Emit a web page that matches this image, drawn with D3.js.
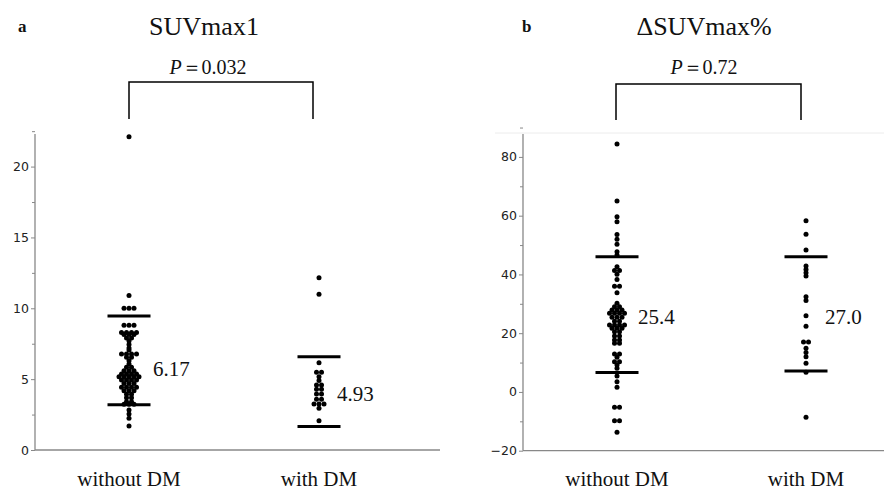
<!DOCTYPE html>
<html lang="en">
<head>
  <meta charset="UTF-8">
  <script src="https://cdn.jsdelivr.net/npm/d3@7"></script>
  <title>SUVmax dot plots</title>
  <style>
    body { margin: 0; background: #fff; }
    .serif { font-family: "Liberation Serif", "Times New Roman", serif; fill: #111; }
    .tick text { font-family: "DejaVu Sans", sans-serif; font-size: 12.5px; fill: #222; }
  </style>
</head>
<body>
<script>
  // group names
  var groups = ["without DM", "with DM"];

  // panel a: SUVmax1 values
  var suvWithout = [22.1, 10.9, 10.0, 10.0, 10.0, 8.8, 8.8, 8.8, 8.3, 8.3, 8.3, 8.3,
    8.15, 8.15, 8.15, 7.9, 7.9, 7.7, 7.45, 7.2, 7.05, 6.77, 6.77, 6.77, 6.77, 6.55, 6.55,
    6.3, 6.07, 5.84, 5.84, 5.6, 5.6, 5.6, 5.36, 5.36, 5.36, 5.36, 5.17, 5.17, 5.17, 5.17, 5.17,
    4.94, 4.94, 4.94, 4.94, 4.7, 4.7, 4.7, 4.42, 4.42, 4.42, 4.42, 4.18, 4.18, 4.18,
    3.93, 3.93, 3.69, 3.69, 3.4, 3.4, 3.22, 3.22, 3.22, 2.82, 2.54, 2.24, 1.7];
  var suvWith = [12.16, 11.0, 6.16, 5.48, 5.48, 5.17, 4.9, 4.59, 4.59, 4.28, 4.28,
    3.95, 3.95, 3.58, 3.58, 3.25, 3.25, 3.25, 2.94, 2.07];
  var suvMeans = [6.17, 4.93];
  var suvUpper = [9.45, 6.58];
  var suvLower = [3.2, 1.65];
  var suvTicks = [0, 5, 10, 15, 20];

  // panel b: delta SUVmax % values
  var dWithout = [84.4, 65.0, 59.6, 57.9, 53.6, 52.0, 50.3, 47.7, 46.6, 42.6, 41.3, 41.3,
    40.1, 38.3, 36.0, 36.0, 33.8, 30.2, 29.0, 29.0, 27.9, 27.9, 27.9, 26.8, 26.8, 26.8, 26.8,
    25.4, 25.4, 25.4, 24.1, 24.1, 22.8, 22.8, 22.8, 22.8, 21.7, 21.7, 21.7, 20.5, 20.5,
    19.0, 19.0, 17.7, 17.7, 16.6, 16.6, 12.9, 12.9, 11.8, 10.3, 10.3, 9.2, 8.1, 5.4, 3.5, 1.6,
    -5.2, -5.2, -9.8, -9.8, -13.7];
  var dWith = [58.3, 53.7, 48.3, 42.9, 41.7, 40.6, 39.5, 32.4, 31.1, 25.9, 22.4, 17.0, 17.0,
    14.9, 13.4, 12.0, 9.8, 6.7, -8.6];
  var dMeans = [25.4, 27.0];
  var dUpper = [46.0, 46.0];
  var dLower = [6.6, 7.1];
  var dTicks = [-20, 0, 20, 40, 60, 80];

  var width = 884, height = 491;
  var svg = d3.select("body").append("svg")
    .attr("width", width).attr("height", height);

  function panel(o) {
    var g = svg.append("g");
    var y = d3.scaleLinear().domain(o.domain).range([o.bottom, 134]);
    var x = d3.scaleOrdinal().domain(groups).range(o.centers);

    // frame lines
    if (o.topLine) {
      g.append("line").attr("x1", o.axisX - 28).attr("x2", o.right)
        .attr("y1", 133).attr("y2", 133)
        .attr("stroke", "#ececec").attr("stroke-width", 1);
    }
    g.append("line").attr("x1", o.axisX).attr("x2", o.right)
      .attr("y1", o.bottom).attr("y2", o.bottom)
      .attr("stroke", "#888").attr("stroke-width", 1.3);

    // y axis with minor ticks
    var minor = [];
    for (var i = 0; i < o.ticks.length - 1; i++) minor.push((o.ticks[i] + o.ticks[i + 1]) / 2);
    minor.push(o.ticks[o.ticks.length - 1] + (o.ticks[1] - o.ticks[0]) / 2);
    g.append("g").attr("transform", "translate(" + o.axisX + ",0)")
      .call(d3.axisLeft(y).tickValues(minor).tickSize(3).tickFormat(""))
      .call(function(s){ s.select(".domain").remove(); s.selectAll("line").attr("stroke", "#888"); });
    var ax = g.append("g").attr("transform", "translate(" + o.axisX + ",0)")
      .call(d3.axisLeft(y).tickValues(o.ticks).tickSize(4).tickPadding(2));
    ax.select(".domain").attr("stroke", "#888").attr("stroke-width", 1.3)
      .attr("d", "M0," + o.bottom + "V134");
    ax.selectAll("line").attr("stroke", "#888");

    // dots, spread sideways when values repeat
    [o.a, o.b].forEach(function(vals, gi) {
      var rows = d3.rollups(vals, function(v){ return v.length; }, function(d){ return d; });
      rows.forEach(function(r) {
        var n = r[1];
        g.selectAll(null).data(d3.range(n)).enter().append("circle")
          .attr("cx", function(k){ return x(groups[gi]) + (k - (n - 1) / 2) * 5; })
          .attr("cy", y(r[0]))
          .attr("r", 2.5)
          .attr("fill", "#000");
      });
    });

    // SD bars
    [o.upper, o.lower].forEach(function(arr) {
      g.selectAll(null).data(arr).enter().append("line")
        .attr("x1", function(d, i){ return x(groups[i]) - 21.5; })
        .attr("x2", function(d, i){ return x(groups[i]) + 21.5; })
        .attr("y1", function(d){ return y(d); })
        .attr("y2", function(d){ return y(d); })
        .attr("stroke", "#000").attr("stroke-width", 3);
    });

    // mean labels
    g.selectAll(null).data(o.means).enter().append("text")
      .attr("class", "serif")
      .attr("x", function(d, i){ return x(groups[i]) + o.labelDx[i]; })
      .attr("y", function(d, i){ return o.labelY[i]; })
      .attr("dy", "0.35em")
      .style("font-size", "21px")
      .text(function(d){ return o.fmt(d); });

    // group labels
    g.selectAll(null).data(groups).enter().append("text")
      .attr("class", "serif")
      .attr("x", function(d){ return x(d); })
      .attr("y", 486)
      .attr("text-anchor", "middle")
      .style("font-size", "21px")
      .text(function(d){ return d; });

    // bracket and P value
    g.append("path")
      .attr("d", "M" + o.bracket[0] + "," + o.bracketBottom + "V" + o.bracketTop +
        "H" + o.bracket[1] + "V" + o.bracketBottom)
      .attr("fill", "none").attr("stroke", "#000").attr("stroke-width", 1.5);
    var p = g.append("text").attr("class", "serif")
      .attr("x", o.pX).attr("y", 74)
      .attr("text-anchor", "middle").style("font-size", "20px");
    p.append("tspan").style("font-style", "italic").text("P");
    p.append("tspan").text("\uFF1D" + o.p);

    // panel letter and title
    g.append("text").attr("class", "serif")
      .attr("x", o.letterX).attr("y", 32)
      .style("font-size", "17px").style("font-weight", "bold")
      .text(o.letter);
    g.append("text").attr("class", "serif")
      .attr("x", o.titleX).attr("y", 35)
      .attr("text-anchor", "middle").style("font-size", "26px")
      .text(o.title);
  }

  panel({
    domain: [0, 22.3], bottom: 450, axisX: 35, right: 440, centers: [129, 319],
    ticks: suvTicks, a: suvWithout, b: suvWith,
    upper: suvUpper, lower: suvLower, means: suvMeans,
    labelDx: [24, 18], labelY: [369, 394], fmt: d3.format(".2f"),
    bracket: [129, 313], bracketTop: 82, bracketBottom: 119, p: "0.032", pX: 208,
    letter: "a", letterX: 18, title: "SUVmax1", titleX: 204, topLine: false
  });

  panel({
    domain: [-20, 87.8], bottom: 450.7, axisX: 523, right: 884, centers: [617, 806],
    ticks: dTicks, a: dWithout, b: dWith,
    upper: dUpper, lower: dLower, means: dMeans,
    labelDx: [21, 19], labelY: [317, 317], fmt: d3.format(".1f"),
    bracket: [616, 801], bracketTop: 84, bracketBottom: 120, p: "0.72", pX: 704,
    letter: "b", letterX: 522, title: "\u0394SUVmax%", titleX: 704, topLine: true
  });
</script>
</body>
</html>
